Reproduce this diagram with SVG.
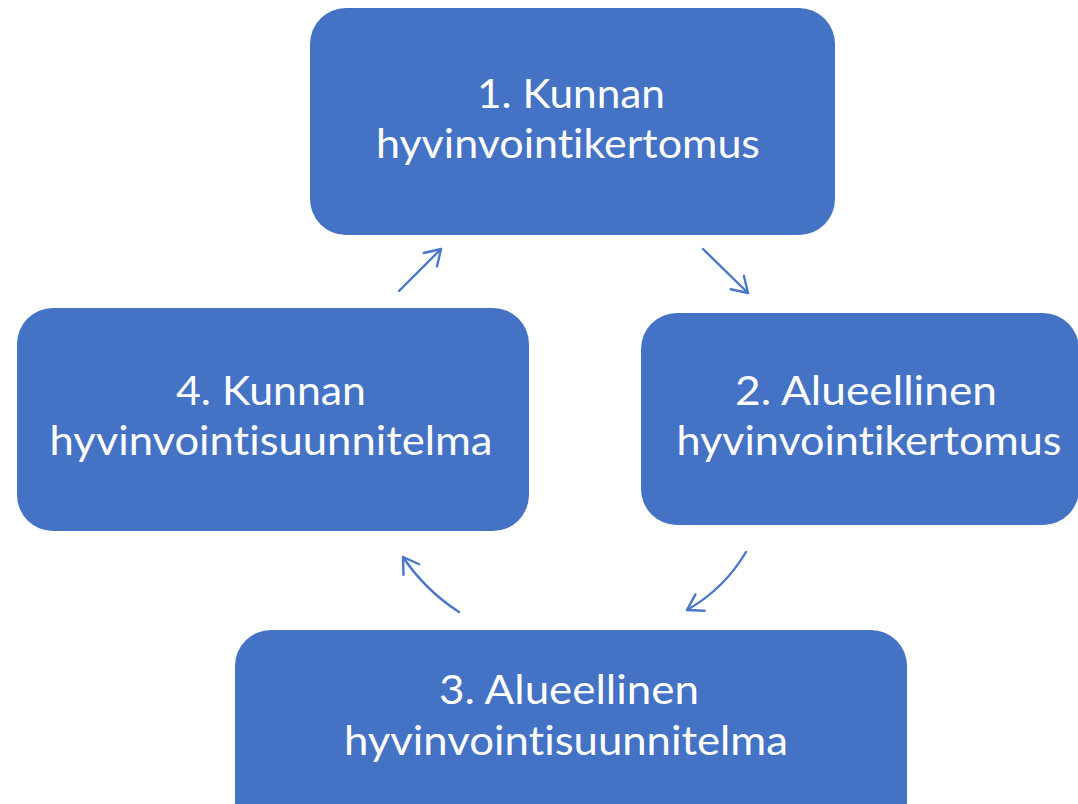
<svg xmlns="http://www.w3.org/2000/svg" width="1078" height="804" viewBox="0 0 1078 804">
<style>
.box{fill:#4472C4;}
.lbl{fill:#FFFFFF;font-family:Lato,"Liberation Sans",sans-serif;font-size:41px;text-anchor:middle;font-variant-ligatures:none;font-feature-settings:"liga" 0,"clig" 0;}
.conn{fill:none;stroke:#4A78C8;stroke-width:2.4;stroke-linecap:round;}
</style>
<defs>
<marker id="arr" viewBox="-17 -11 19 22" markerUnits="userSpaceOnUse" markerWidth="19" markerHeight="22" refX="0" refY="0" orient="auto">
<path d="M-15,-9.4 L0,0 L-15,9.4" fill="none" stroke="#4A78C8" stroke-width="2.4" stroke-linecap="round" stroke-linejoin="round"/>
</marker>
</defs>
<rect x="0" y="0" width="1078" height="804" fill="#FFFFFF"/>
<g id="connectors">
<path class="conn" d="M399,291 L441,249" marker-end="url(#arr)"/>
<path class="conn" d="M703,249 L748,293" marker-end="url(#arr)"/>
<path class="conn" d="M746,552 Q724,589 687,610" marker-end="url(#arr)"/>
<path class="conn" d="M459,612 Q425,590 403,557" marker-end="url(#arr)"/>
</g>
<g id="node1">
<rect class="box" x="310" y="8" width="525" height="227" rx="36" ry="36"/>
<text class="lbl" x="571" y="108" textLength="188" lengthAdjust="spacingAndGlyphs">1. Kunnan</text>
<text class="lbl" x="568" y="158" textLength="384" lengthAdjust="spacingAndGlyphs">hyvinvointikertomus</text>
</g>
<g id="node2">
<rect class="box" x="641" y="313" width="438" height="212" rx="36" ry="36"/>
<text class="lbl" x="866" y="405" textLength="262" lengthAdjust="spacingAndGlyphs">2. Alueellinen</text>
<text class="lbl" x="869" y="455" textLength="385" lengthAdjust="spacingAndGlyphs">hyvinvointikertomus</text>
</g>
<g id="node3">
<rect class="box" x="235" y="630" width="672" height="225" rx="36" ry="36"/>
<text class="lbl" x="569" y="704" textLength="260" lengthAdjust="spacingAndGlyphs">3. Alueellinen</text>
<text class="lbl" x="566" y="755" textLength="444" lengthAdjust="spacingAndGlyphs">hyvinvointisuunnitelma</text>
</g>
<g id="node4">
<rect class="box" x="17" y="308" width="512" height="223" rx="36" ry="36"/>
<text class="lbl" x="271" y="405" textLength="190" lengthAdjust="spacingAndGlyphs">4. Kunnan</text>
<text class="lbl" x="271" y="455" textLength="443" lengthAdjust="spacingAndGlyphs">hyvinvointisuunnitelma</text>
</g>
</svg>
